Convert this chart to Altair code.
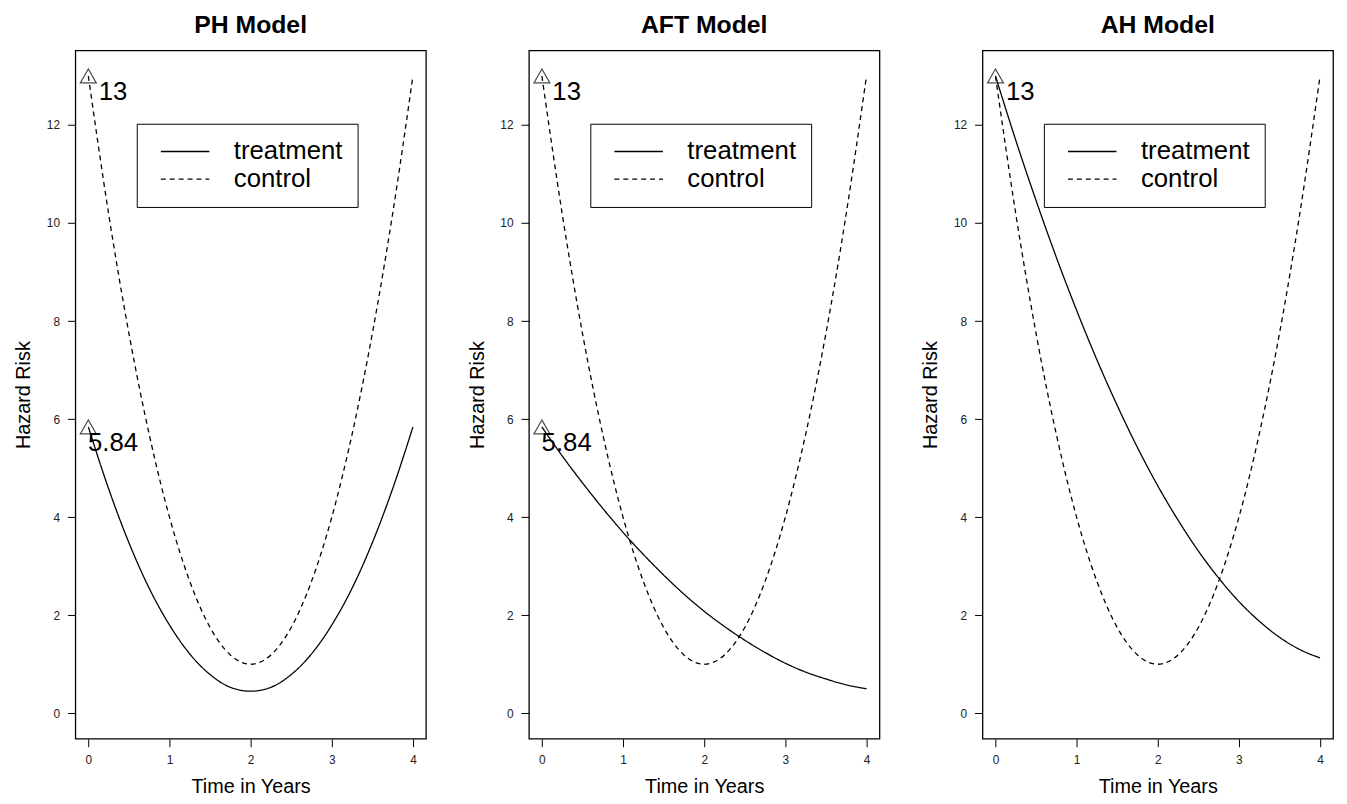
import altair as alt
import pandas as pd

# time grid (years)
t = [0, 0.25, 0.5, 0.75, 1, 1.25, 1.5, 1.75, 2, 2.25, 2.5, 2.75, 3, 3.25, 3.5, 3.75, 4]

# control hazard (same in every panel)
control = [13, 10.19, 7.75, 5.69, 4.0, 2.69, 1.75, 1.19, 1.0, 1.19, 1.75, 2.69, 4.0, 5.69, 7.75, 10.19, 13]
# treatment hazards
ph_treat = [5.84, 4.58, 3.48, 2.55, 1.80, 1.21, 0.79, 0.53, 0.45, 0.53, 0.79, 1.21, 1.80, 2.55, 3.48, 4.58, 5.84]
aft_treat = [5.84, 5.25, 4.70, 4.18, 3.69, 3.24, 2.82, 2.43, 2.08, 1.77, 1.49, 1.24, 1.02, 0.84, 0.70, 0.58, 0.50]
ah_treat = [13.0, 11.69, 10.46, 9.30, 8.22, 7.21, 6.28, 5.42, 4.64, 3.94, 3.31, 2.76, 2.28, 1.88, 1.55, 1.30, 1.13]

panels = ["PH Model", "AFT Model", "AH Model"]
treatments = [ph_treat, aft_treat, ah_treat]

# marked starting values (triangles + labels)
mark_panel = ["PH Model", "PH Model", "AFT Model", "AFT Model", "AH Model"]
mark_t = [0, 0, 0, 0, 0]
mark_value = [13, 5.84, 13, 5.84, 13]
mark_label = ["13", "5.84", "13", "5.84", "13"]

x_ticks = [0, 1, 2, 3, 4]
y_ticks = [0, 2, 4, 6, 8, 10, 12]

FONT = "Liberation Sans"

rows = []
for p, tr in zip(panels, treatments):
    for ti, v in zip(t, tr):
        rows.append({"panel": p, "t": ti, "value": v, "group": "treatment"})
    for ti, v in zip(t, control):
        rows.append({"panel": p, "t": ti, "value": v, "group": "control"})
lines_df = pd.DataFrame(rows)
marks_df = pd.DataFrame({"panel": mark_panel, "t": mark_t, "value": mark_value, "label": mark_label})

xscale = alt.Scale(domain=[-0.16, 4.16], nice=False, zero=False)
yscale = alt.Scale(domain=[-0.52, 13.52], nice=False, zero=False)


def panel_chart(name):
    ld = lines_df[lines_df.panel == name]
    md = marks_df[marks_df.panel == name]
    x = alt.X("t:Q", scale=xscale, title="Time in Years",
              axis=alt.Axis(values=x_ticks, format="d"))
    y = alt.Y("value:Q", scale=yscale, title="Hazard Risk",
              axis=alt.Axis(values=y_ticks, format="d"))
    lines = alt.Chart(ld).mark_line(color="black", strokeWidth=1.3, interpolate="monotone").encode(
        x=x, y=y,
        strokeDash=alt.StrokeDash(
            "group:N",
            scale=alt.Scale(domain=["treatment", "control"], range=[[1, 0], [5, 4]]),
            legend=alt.Legend(
                title=None, orient="none", legendX=62, legendY=74,
                strokeColor="black", fillColor="white", padding=15,
                labelFontSize=26, labelFont=FONT, labelColor="black",
                labelOffset=57, symbolType="M-0.3,0H3.7", symbolSize=600,
                symbolStrokeWidth=1.3, symbolStrokeColor="black",
                rowPadding=2, labelLimit=300,
            ),
        ),
        detail="group:N",
    )
    pts = alt.Chart(md).mark_point(shape="triangle-up", filled=False, color="black",
                                   size=260, strokeWidth=1.2).encode(x=x, y=y)
    txt = alt.Chart(md).mark_text(align="center", baseline="middle", dx=25, dy=16,
                                  fontSize=26, font=FONT, color="black").encode(
        x=x, y=y, text="label:N")
    return alt.layer(lines, pts, txt).properties(
        width=354, height=695,
        title=alt.TitleParams(name, fontSize=25, font=FONT, fontWeight="bold",
                              anchor="middle", frame="group", offset=13, color="black"),
    )


chart = alt.hconcat(*[panel_chart(p) for p in panels], spacing=40).resolve_scale(
    strokeDash="independent"
).resolve_legend(strokeDash="independent").properties(
    padding={"left": 5, "top": 0, "right": 5, "bottom": 5}
).configure_view(
    stroke="black", strokeWidth=1.3
).configure_axis(
    domain=False, grid=False, tickColor="black", tickSize=8, tickWidth=1,
    labelFont=FONT, labelFontSize=12, labelColor="#222", labelPadding=8,
    titleFont=FONT, titleFontSize=20, titleFontWeight="normal", titleColor="black",
).configure_axisY(titlePadding=13, labelAngle=0).configure_axisX(titlePadding=11)

chart.save("out.html", embed_options={"renderer": "svg", "actions": False})
